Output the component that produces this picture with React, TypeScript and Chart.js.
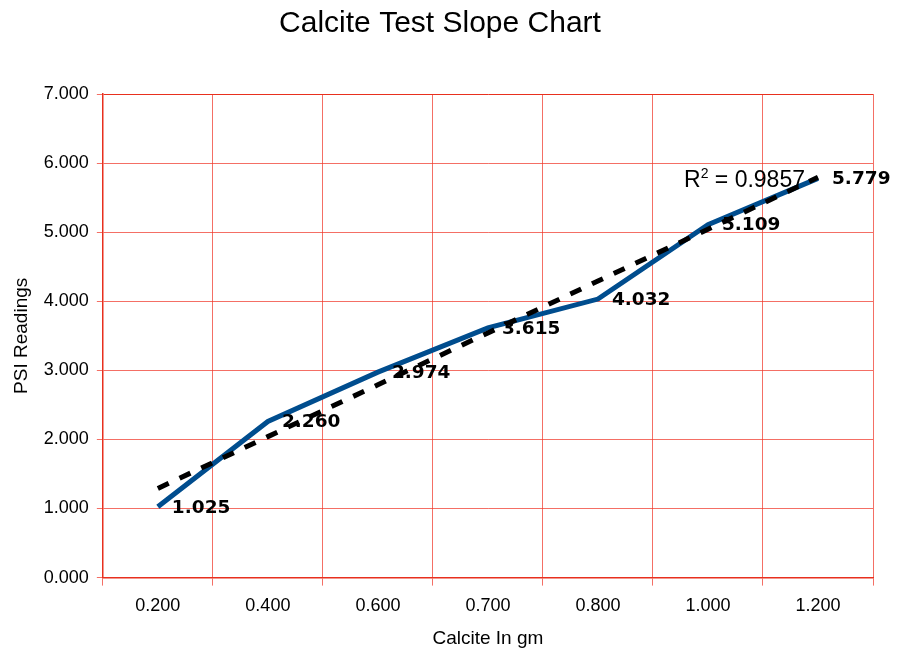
import React, { useEffect, useRef } from "react";
import { Chart, registerables } from "chart.js";

Chart.register(...registerables);

const categories = ["0.200", "0.400", "0.600", "0.700", "0.800", "1.000", "1.200"];
const psiReadings = [1.025, 2.26, 2.974, 3.615, 4.032, 5.109, 5.779];
const rSquaredText = "0.9857";
const chartTitle = "Calcite Test Slope Chart";
const xTitle = "Calcite In gm";
const yTitle = "PSI Readings";

// Linear trendline (least squares on category index, as the spreadsheet does)
function linearTrend(values: number[]): number[] {
  const n = values.length;
  const xs = values.map((_, i) => i + 1);
  const mx = xs.reduce((a, b) => a + b, 0) / n;
  const my = values.reduce((a, b) => a + b, 0) / n;
  let sxy = 0;
  let sxx = 0;
  for (let i = 0; i < n; i++) {
    sxy += (xs[i] - mx) * (values[i] - my);
    sxx += (xs[i] - mx) * (xs[i] - mx);
  }
  const slope = sxy / sxx;
  const intercept = my - slope * mx;
  return xs.map((x) => intercept + slope * x);
}

const FONT = "'Liberation Sans', Arial, sans-serif";
const GRID = "rgba(240,55,42,0.72)";
const BORDER = "#e8301e";

const labelPlugin = {
  id: "valueLabels",
  afterDraw(chart: any) {
    const ctx = chart.ctx;
    const meta = chart.getDatasetMeta(1);
    ctx.save();
    ctx.font = "bold 18.5px 'DejaVu Sans', Verdana, sans-serif";
    ctx.fillStyle = "#000";
    ctx.textAlign = "left";
    ctx.textBaseline = "middle";
    meta.data.forEach((pt: any, i: number) => {
      ctx.fillText(psiReadings[i].toFixed(3), pt.x + 14, pt.y + 1);
    });
    // R² label near trendline end
    const last = meta.data[meta.data.length - 1];
    const rightX = last.x - 13;
    const baseY = last.y + 9;
    ctx.font = `23px ${FONT}`;
    ctx.textBaseline = "alphabetic";
    const rest = " = " + rSquaredText;
    const restW = ctx.measureText(rest).width;
    ctx.font = `14px ${FONT}`;
    const supW = ctx.measureText("2").width;
    ctx.font = `23px ${FONT}`;
    const rW = ctx.measureText("R").width;
    const startX = rightX - restW - supW - rW;
    ctx.fillText("R", startX, baseY);
    ctx.font = `14px ${FONT}`;
    ctx.fillText("2", startX + rW, baseY - 9);
    ctx.font = `23px ${FONT}`;
    ctx.fillText(rest, startX + rW + supW, baseY);
    ctx.restore();
  },
};

export default function App() {
  const canvasRef = useRef<HTMLCanvasElement | null>(null);

  useEffect(() => {
    if (!canvasRef.current) return;
    const trend = linearTrend(psiReadings);
    const chart = new Chart(canvasRef.current, {
      type: "line",
      data: {
        labels: categories,
        datasets: [
          {
            label: "Trend",
            data: trend,
            borderColor: "#000",
            borderWidth: 5,
            borderDash: [12, 12],
            pointRadius: 0,
            fill: false,
            tension: 0,
            order: 0,
          },
          {
            label: "PSI",
            data: psiReadings,
            borderColor: "#004d8e",
            borderWidth: 5,
            pointRadius: 0,
            fill: false,
            tension: 0,
            order: 1,
          },
        ],
      },
      options: {
        responsive: false,
        animation: false,
        layout: { padding: { left: 7, right: 27, top: 0, bottom: 0 } },
        plugins: {
          legend: { display: false },
          tooltip: { enabled: false },
          title: {
            display: true,
            text: chartTitle,
            color: "#000",
            font: { family: FONT, size: 30, weight: "normal" },
            padding: { top: 6, bottom: 52 },
          },
        },
        scales: {
          x: {
            type: "category",
            offset: true,
            grid: {
              offset: true,
              color: GRID,
              tickColor: GRID,
              tickLength: 8,
              lineWidth: 1,
            },
            border: { color: BORDER, width: 1.5 },
            ticks: {
              color: "#000",
              font: { family: FONT, size: 18 },
              padding: 10,
              maxRotation: 0,
            },
            title: {
              display: true,
              text: xTitle,
              color: "#000",
              font: { family: FONT, size: 19 },
              padding: { top: 0, bottom: 0 },
            },
          },
          y: {
            min: 0,
            max: 7,
            grid: {
              color: (c: any) => (c.tick && c.tick.value === 7 ? BORDER : GRID),
              tickColor: GRID,
              tickLength: 6,
              lineWidth: 1,
            },
            border: { color: BORDER, width: 1.5 },
            ticks: {
              stepSize: 1,
              color: "#000",
              font: { family: FONT, size: 18 },
              padding: 8,
              callback: (v: any) => Number(v).toFixed(3),
            },
            title: {
              display: true,
              text: yTitle,
              color: "#000",
              font: { family: FONT, size: 19 },
              padding: { top: 3, bottom: 3 },
            },
          },
        },
      },
      plugins: [labelPlugin],
    });
    return () => chart.destroy();
  }, []);

  return (
    <div style={{ position: "fixed", left: 0, top: 0, width: 900, height: 650, background: "#fff" }}>
      <canvas ref={canvasRef} width={900} height={650} />
    </div>
  );
}
